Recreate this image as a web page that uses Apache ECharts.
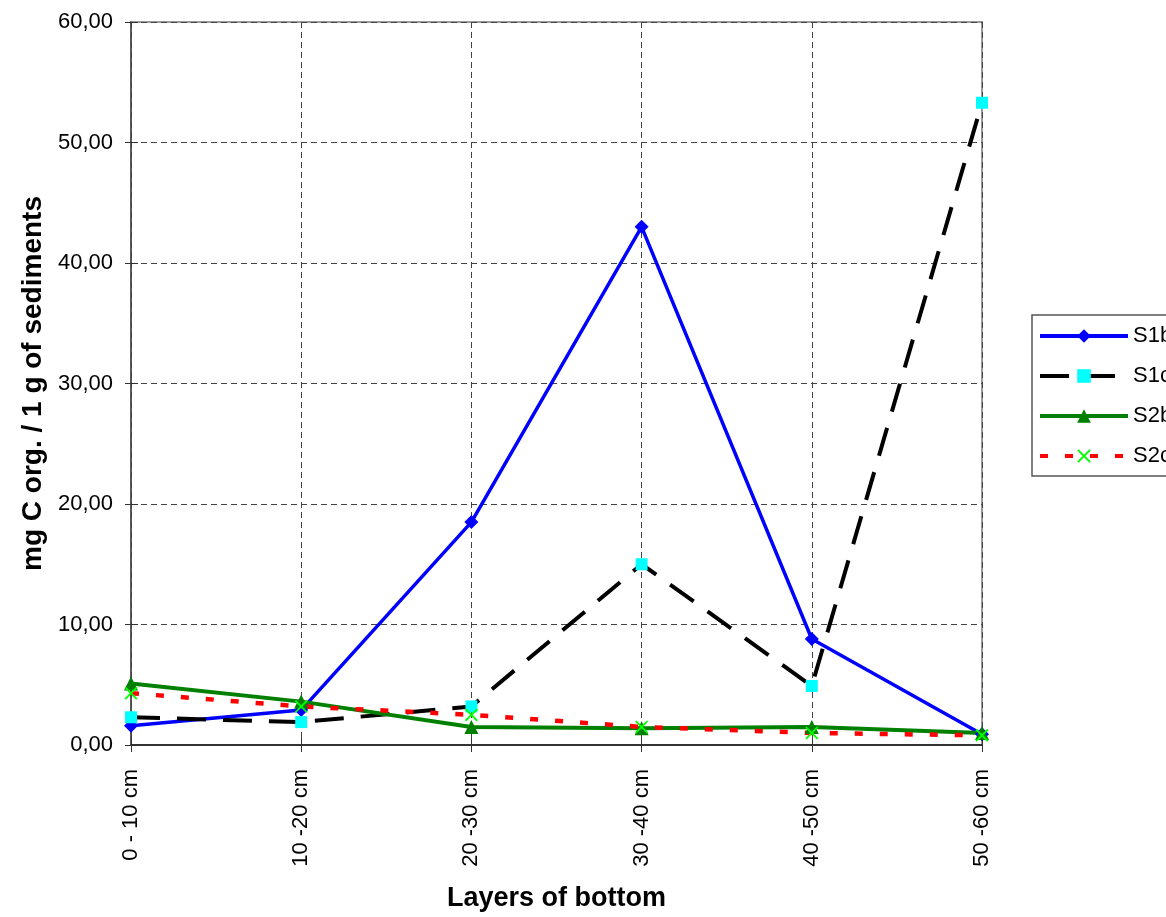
<!DOCTYPE html>
<html>
<head>
<meta charset="utf-8">
<script src="https://cdn.jsdelivr.net/npm/echarts@6/dist/echarts.min.js"></script>
<style>
  html, body { margin: 0; padding: 0; background: #fff; }
  #chart { width: 1166px; height: 917px; }
</style>
</head>
<body>
<div id="chart"></div>
<script>
// Organic carbon content per sediment layer
const layers = ['0 - 10 cm', '10 -20 cm', '20 -30 cm', '30 -40 cm', '40 -50 cm', '50 -60 cm'];
const s1b = [1.6, 2.9, 18.5, 43.0, 8.8, 0.9];
const s1c = [2.3, 1.9, 3.2, 15.0, 4.9, 53.3];
const s2b = [5.1, 3.6, 1.5, 1.4, 1.5, 1.0];
const s2c = [4.3, 3.2, 2.5, 1.5, 1.0, 0.8];
const seriesNames = ['S1b', 'S1c', 'S2b', 'S2c'];
const yTicks = { min: 0, max: 60, step: 10 };

const FONT = 'Liberation Sans, Arial, sans-serif';
const crossPath = 'path://M0,1L1,0L5,4L9,0L10,1L6,5L10,9L9,10L5,6L1,10L0,9L4,5Z';

const chart = echarts.init(document.getElementById('chart'), null, { renderer: 'canvas' });

const fmt = v => v.toFixed(2).replace('.', ',');

chart.setOption({
  animation: false,
  backgroundColor: '#ffffff',
  textStyle: { fontFamily: FONT },
  grid: {
    left: 131, right: 184, top: 22, bottom: 167,
    show: true, borderColor: '#9a9a9a', borderWidth: 2, backgroundColor: 'transparent'
  },
  legend: {
    orient: 'vertical',
    left: 1032, top: 315,
    padding: [9, 12, 8, 6],
    itemWidth: 88, itemHeight: 17, itemGap: 16,
    borderColor: '#555', borderWidth: 1.5,
    lineStyle: { width: 4 },
    textStyle: { fontSize: 22, color: '#000', fontFamily: FONT, lineHeight: 24 },
    data: seriesNames
  },
  xAxis: [{
    type: 'category',
    data: layers,
    boundaryGap: false,
    name: 'Layers of bottom',
    nameLocation: 'middle',
    nameGap: 140,
    nameTextStyle: { fontSize: 27, fontWeight: 'bold', color: '#000', fontFamily: FONT },
    axisLine: { lineStyle: { color: '#333', width: 2 } },
    axisTick: { show: true, length: 7, lineStyle: { color: '#333', width: 1 } },
    axisLabel: { rotate: 90, fontSize: 22, color: '#000', margin: 24, fontFamily: FONT },
    splitLine: { show: true, lineStyle: { color: '#444', type: [6, 4], width: 1 } }
  }, {
    type: 'category',
    data: layers,
    boundaryGap: false,
    position: 'bottom',
    axisLine: { show: false },
    axisTick: { show: true, inside: true, length: 7, lineStyle: { color: '#333', width: 1 } },
    axisLabel: { show: false },
    splitLine: { show: false }
  }],
  yAxis: [{
    type: 'value',
    min: yTicks.min, max: yTicks.max, interval: yTicks.step,
    name: 'mg C org. / 1 g of sediments',
    nameLocation: 'middle',
    nameGap: 84,
    nameTextStyle: { fontSize: 28, fontWeight: 'bold', color: '#000', fontFamily: FONT },
    axisLine: { show: true, lineStyle: { color: '#444', width: 1.5 } },
    axisTick: { show: true, length: 6, lineStyle: { color: '#333', width: 1 } },
    axisLabel: { formatter: fmt, fontSize: 22, color: '#000', margin: 18, fontFamily: FONT },
    splitLine: { show: true, lineStyle: { color: '#444', type: [6, 4], width: 1 } }
  }, {
    type: 'value',
    min: yTicks.min, max: yTicks.max, interval: yTicks.step,
    position: 'left',
    axisLine: { show: false },
    axisTick: { show: true, inside: true, length: 7, lineStyle: { color: '#333', width: 1 } },
    axisLabel: { show: false },
    splitLine: { show: false }
  }],
  series: [
    {
      name: 'S1b', type: 'line', data: s1b,
      symbol: 'diamond', symbolSize: 14,
      lineStyle: { color: '#0000ff', width: 3.5 },
      itemStyle: { color: '#0000ff' }
    },
    {
      name: 'S1c', type: 'line', data: s1c,
      symbol: 'rect', symbolSize: 12,
      lineStyle: { color: '#000000', width: 4, type: [29, 17] },
      itemStyle: { color: '#00ffff' }
    },
    {
      name: 'S2b', type: 'line', data: s2b,
      symbol: 'triangle', symbolSize: 14,
      lineStyle: { color: '#008000', width: 4 },
      itemStyle: { color: '#008000' }
    },
    {
      name: 'S2c', type: 'line', data: s2c,
      symbol: crossPath, symbolSize: 13,
      lineStyle: { color: '#ff0000', width: 4.5, type: [8, 17] },
      itemStyle: { color: '#00ff00' }
    }
  ]
});
</script>
</body>
</html>
